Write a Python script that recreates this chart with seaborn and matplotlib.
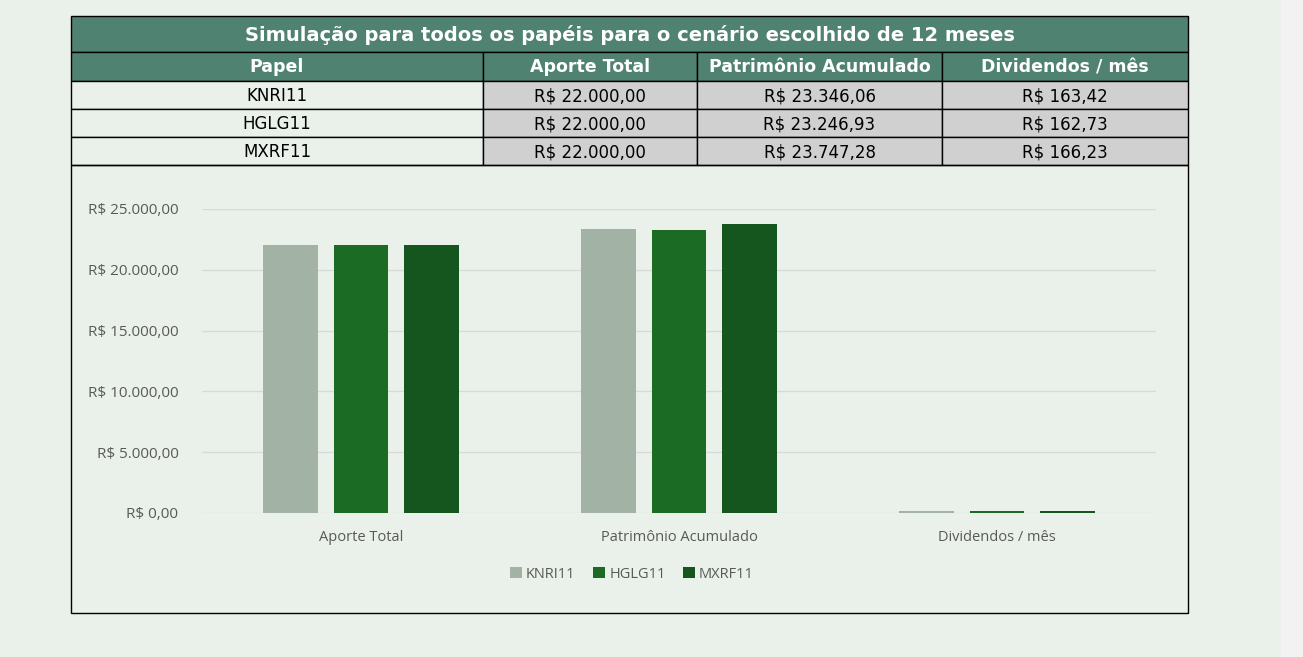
import pandas as pd
import matplotlib
matplotlib.use("Agg")
import matplotlib.pyplot as plt
import matplotlib.ticker as mticker
from matplotlib.patches import Rectangle
import seaborn as sns

# ── Dados ────────────────────────────────────────────────────────────
TITULO = "Simulação para todos os papéis para o cenário escolhido de 12 meses"
PAPEIS = ["KNRI11", "HGLG11", "MXRF11"]
METRICAS = ["Aporte Total", "Patrimônio Acumulado", "Dividendos / mês"]
APORTE_TOTAL = [22000.00, 22000.00, 22000.00]
PATRIMONIO = [23346.06, 23246.93, 23747.28]
DIVIDENDOS = [163.42, 162.73, 166.23]
Y_TICKS = [0, 5000, 10000, 15000, 20000, 25000]

CORES = {
    "KNRI11": "#A2B2A4",
    "HGLG11": "#1B6B24",
    "MXRF11": "#14561E",
}
FUNDO = "#EAF1EA"
CABECALHO = "#508272"
CINZA_CEL = "#D0D0D0"
NARROW = ["Liberation Sans Narrow", "DejaVu Sans"]

sns.set_theme(style="white")
plt.rcParams["font.family"] = ["Open Sans", "DejaVu Sans"]


def brl(v, pos=None):
    s = f"{v:,.2f}".replace(",", "X").replace(".", ",").replace("X", ".")
    return f"R$ {s}"


df = pd.DataFrame({
    "Papel": PAPEIS * 3,
    "Métrica": [m for m in METRICAS for _ in PAPEIS],
    "Valor": APORTE_TOTAL + PATRIMONIO + DIVIDENDOS,
})

W, H = 1303, 657
fig = plt.figure(figsize=(W / 100, H / 100), dpi=100, facecolor=FUNDO)

# ── Tabela (desenhada em coordenadas de pixel) ───────────────────────
bg = fig.add_axes([0, 0, 1, 1])
bg.set_xlim(0, W)
bg.set_ylim(H, 0)
bg.axis("off")
bg.add_patch(Rectangle((1281, 0), W - 1281, H, fc="#F2F2F2", ec="none"))

x0, x1 = 71, 1188
cols = [71, 483, 697, 942, 1188]
rows = [52, 81, 109, 137, 165]

# título
bg.add_patch(Rectangle((x0, 16), x1 - x0, 36, fc=CABECALHO, ec="black", lw=1))
bg.text((x0 + x1) / 2, 35, TITULO, ha="center", va="center", color="white",
        fontsize=14, fontweight="bold", family=NARROW)

cabecalho = ["Papel"] + METRICAS
linhas = [[p, brl(a), brl(pt), brl(d)]
          for p, a, pt, d in zip(PAPEIS, APORTE_TOTAL, PATRIMONIO, DIVIDENDOS)]

for j in range(4):
    bg.add_patch(Rectangle((cols[j], rows[0]), cols[j + 1] - cols[j], rows[1] - rows[0],
                           fc=CABECALHO, ec="black", lw=1))
    bg.text((cols[j] + cols[j + 1]) / 2, (rows[0] + rows[1]) / 2 + 1, cabecalho[j],
            ha="center", va="center", color="white", fontsize=12.5,
            fontweight="bold", family=NARROW)

for i, linha in enumerate(linhas):
    for j, txt in enumerate(linha):
        fc = FUNDO if j == 0 else CINZA_CEL
        bg.add_patch(Rectangle((cols[j], rows[i + 1]), cols[j + 1] - cols[j],
                               rows[i + 2] - rows[i + 1], fc=fc, ec="black", lw=1))
        bg.text((cols[j] + cols[j + 1]) / 2, (rows[i + 1] + rows[i + 2]) / 2 + 1, txt,
                ha="center", va="center", color="black", fontsize=12, family=NARROW)

# moldura do gráfico
bg.add_patch(Rectangle((x0, 165), x1 - x0, 613 - 165, fc="none", ec="black", lw=1))

# ── Gráfico de barras ────────────────────────────────────────────────
ax_l, ax_r, ax_t, ax_b = 202, 1156, 209, 513
ax = fig.add_axes([ax_l / W, 1 - ax_b / H, (ax_r - ax_l) / W, (ax_b - ax_t) / H])
ax.set_facecolor("none")

sns.barplot(
    data=df, x="Métrica", y="Valor", hue="Papel",
    palette=CORES, width=0.665, gap=0.22, saturation=1,
    order=METRICAS, hue_order=PAPEIS, ax=ax, zorder=3,
    linewidth=0, edgecolor="none",
)

ax.set_xlim(-0.5, 2.5)
ax.set_ylim(0, 25000)
ax.set_yticks(Y_TICKS)
ax.yaxis.set_major_formatter(mticker.FuncFormatter(brl))
ax.grid(axis="y", color="#D9D9D9", linewidth=1, zorder=0)
ax.set_axisbelow(True)
for s in ax.spines.values():
    s.set_visible(False)
ax.set_xlabel("")
ax.set_ylabel("")
ax.tick_params(axis="x", length=0, pad=12, labelsize=10.5, labelcolor="#595959")
ax.tick_params(axis="y", length=0, pad=17, labelsize=11, labelcolor="#595959")

ax.legend(
    loc="center", bbox_to_anchor=(632 / W, 1 - 574 / H), bbox_transform=fig.transFigure,
    ncol=3, frameon=False, fontsize=10.5, labelcolor="#595959",
    handlelength=0.8, handleheight=0.8, handletextpad=0.3, columnspacing=1.2,
)

fig.savefig("out.png", dpi=100, facecolor=FUNDO)
